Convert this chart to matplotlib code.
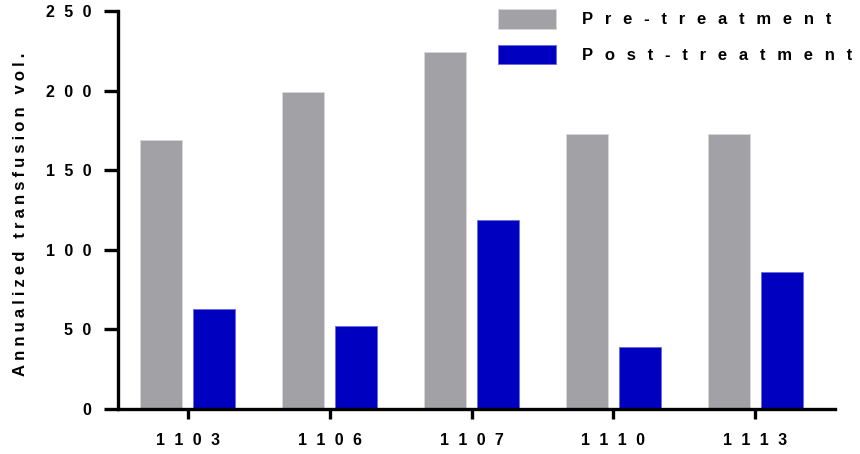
import matplotlib
matplotlib.use('Agg')
import matplotlib.pyplot as plt
import numpy as np

patients = ['1103', '1106', '1107', '1110', '1113']
pre_treatment = [169, 199, 224, 173, 173]
post_treatment = [63, 52, 119, 39, 86]
series_names = ['Pre-treatment', 'Post-treatment']
y_ticks = [0, 50, 100, 150, 200, 250]

GREY = '#a2a1a6'
BLUE = '#0000c0'


def spaced(s, gap='\u2002\u200a'):
    # wide letter spacing, Prism style
    return gap.join(s)


plt.rcParams['font.family'] = ['Liberation Sans', 'DejaVu Sans']

fig = plt.figure(figsize=(8.6, 4.54), dpi=100)
ax = fig.add_axes([0.1372, 0.0991, 0.8337, 0.8767])

x = np.arange(len(patients))
w = 0.296
off = 0.187
ax.bar(x - off, pre_treatment, w, color=GREY, edgecolor='#d8d8dc', linewidth=0.6,
       label=spaced(series_names[0], '\u2002\u2009'))
ax.bar(x + off, post_treatment, w, color=BLUE, edgecolor='#6a6ae0', linewidth=0.6,
       label=spaced(series_names[1], '\u2002\u2009'))

ax.set_xlim(-0.49, 4.56)
ax.set_ylim(0, 250)

for side in ['top', 'right']:
    ax.spines[side].set_visible(False)
for side in ['left', 'bottom']:
    ax.spines[side].set_linewidth(2.4)
    ax.spines[side].set_capstyle('projecting')

ax.set_yticks(y_ticks)
ax.set_yticklabels([spaced(str(v)) for v in y_ticks], fontsize=11.5, fontweight='bold')
ax.set_xticks(x)
ax.set_xticklabels([spaced(p) for p in patients], fontsize=11.5, fontweight='bold')
ax.tick_params(axis='y', length=10, width=2.4, pad=9)
ax.tick_params(axis='x', length=7, width=2.4, pad=10)

ax.set_ylabel(spaced('Annualized transfusion vol.', '\u2005'), fontsize=12,
              fontweight='bold')
ax.yaxis.set_label_coords(-0.125, 0.49)

leg = fig.legend(loc='upper left', bbox_to_anchor=(498 / 860, 1 - 9 / 454),
                 frameon=False, borderpad=0, borderaxespad=0,
                 handlelength=3.47, handleheight=1.44, handletextpad=1.56,
                 labelspacing=0.96,
                 prop={'size': 12, 'weight': 'bold'})

fig.savefig('out.png', dpi=100)
